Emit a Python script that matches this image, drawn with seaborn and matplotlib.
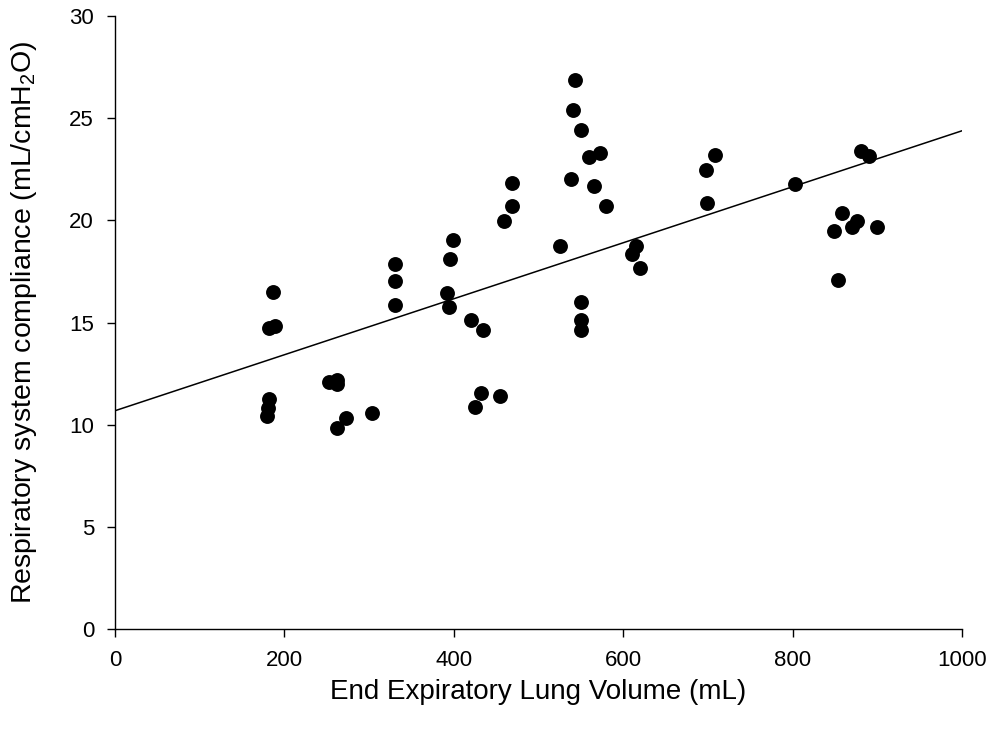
"""Respiratory system compliance vs end expiratory lung volume."""
import numpy as np
import pandas as pd
import matplotlib

matplotlib.use("Agg")
import matplotlib.pyplot as plt
import seaborn as sns

# End expiratory lung volume (mL)
eelv = [
    180, 181, 182, 182, 189, 187, 253, 262, 262, 262, 273, 303,
    330, 330, 330, 392, 394, 395, 399, 420, 425, 432, 434, 455,
    459, 469, 469, 525, 538, 540, 543, 550, 550, 550, 550, 560,
    565, 572, 580, 610, 615, 620, 698, 699, 708, 803, 849, 853,
    858, 870, 876, 880, 890, 899,
]
# Respiratory system compliance (mL/cmH2O)
compliance = [
    10.4, 10.8, 11.25, 14.75, 14.85, 16.5, 12.1, 12.2, 12.0, 9.85, 10.3, 10.55,
    17.85, 17.05, 15.85, 16.45, 15.75, 18.1, 19.05, 15.1, 10.85, 11.55, 14.65, 11.4,
    19.95, 20.7, 21.85, 18.75, 22.05, 25.4, 26.9, 24.45, 16.0, 15.1, 14.65, 23.1,
    21.7, 23.3, 20.7, 18.35, 18.75, 17.65, 22.45, 20.85, 23.2, 21.8, 19.5, 17.1,
    20.35, 19.7, 19.95, 23.4, 23.15, 19.7,
]
x_ticks = [0, 200, 400, 600, 800, 1000]
y_ticks = [0, 5, 10, 15, 20, 25, 30]

df = pd.DataFrame({"eelv": eelv, "crs": compliance})

sns.set_style("ticks")
plt.rcParams["font.family"] = ["Liberation Sans", "DejaVu Sans"]
plt.rcParams["mathtext.fontset"] = "custom"
plt.rcParams["mathtext.rm"] = "Liberation Sans"
plt.rcParams["text.color"] = "black"
plt.rcParams["axes.labelcolor"] = "black"
plt.rcParams["xtick.color"] = "black"
plt.rcParams["ytick.color"] = "black"

fig = plt.figure(figsize=(9.91, 7.38), dpi=100)
ax = fig.add_axes([0.116, 0.148, 0.855, 0.83])
ax.set_xlim(0, 1000)
ax.set_ylim(0, 30)

sns.regplot(
    data=df,
    x="eelv",
    y="crs",
    ax=ax,
    ci=None,
    truncate=False,
    color="black",
    scatter_kws={"s": 115, "linewidths": 0, "alpha": 1},
    line_kws={"linewidth": 1.1},
)

ax.set_xlim(0, 1000)
ax.set_ylim(0, 30)
ax.set_xticks(x_ticks)
ax.set_yticks(y_ticks)
ax.tick_params(direction="out", length=6, width=1, labelsize=16, pad=9)
for side in ["left", "bottom"]:
    ax.spines[side].set_color("black")
    ax.spines[side].set_linewidth(1)
sns.despine(ax=ax)

ax.set_xlabel("End Expiratory Lung Volume (mL)", fontsize=20, labelpad=6)
ax.set_ylabel("Respiratory system compliance (mL/cmH$_2$O)", fontsize=20.5, labelpad=22)

fig.savefig("out.png", dpi=100)
